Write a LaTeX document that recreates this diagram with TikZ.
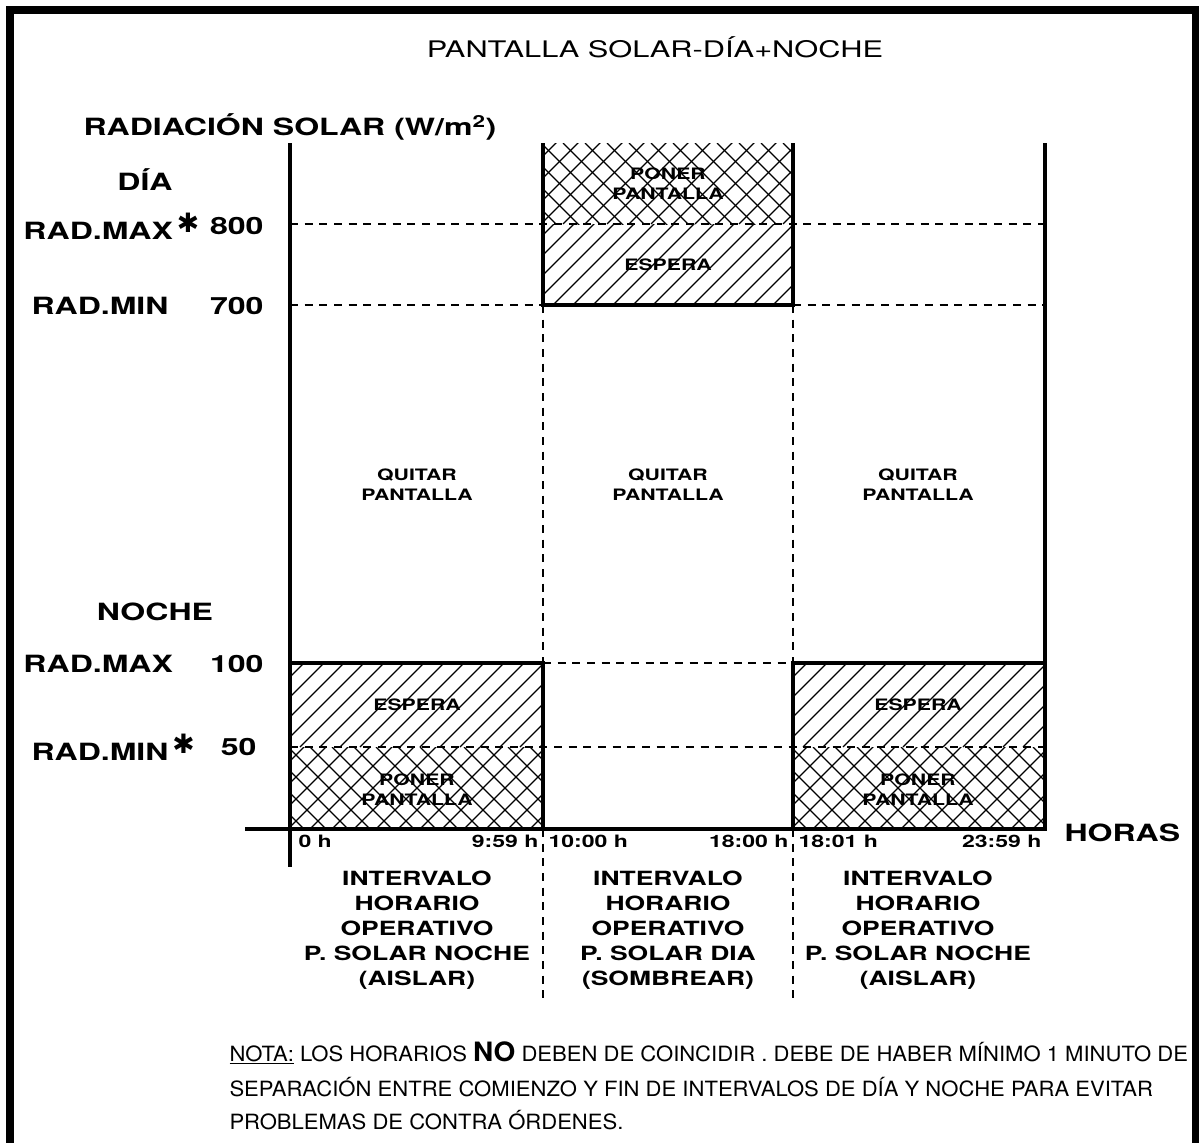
\documentclass[tikz,border=0pt]{standalone}
\usepackage{fontspec}
\setmainfont{TeX Gyre Heros}[FakeStretch=1.35]
\newfontfamily\notefont{TeX Gyre Heros}[FakeStretch=1.05]
\newfontfamily\symfont{DejaVu Sans}

\tikzset{every picture/.style={line width=0.75pt}}
\tikzset{
  axisline/.style={line width=3pt},
  boxline/.style={line width=2.6pt},
  guide/.style={line width=1.5pt,dash pattern={on 6pt off 5pt}},
  hatchln/.style={line width=0.9pt},
  radlbl/.style={font=\fontsize{17.8}{20}\selectfont\bfseries,inner sep=0.75pt},
  zonelbl/.style={font=\fontsize{11.8}{15}\selectfont\bfseries,align=center,inner sep=0.75pt},
  horalbl/.style={font=\fontsize{12.8}{14}\selectfont\bfseries,inner sep=0.75pt},
  ivllbl/.style={font=\fontsize{14.7}{18.75}\selectfont\bfseries,align=center,inner sep=0.75pt,anchor=north},
  notelbl/.style={font=\notefont\fontsize{15.75}{18}\selectfont,anchor=west,inner sep=0.75pt}
}
\newcommand{\starmark}{\,\raisebox{0.3em}{\symfont\mdseries\fontsize{20}{20}\selectfont ✱}}

\begin{document}
\begin{tikzpicture}[x=0.75pt,y=0.75pt,yscale=-1,xscale=1]
\useasboundingbox (0,0) rectangle (1199,1142);
\clip (0,0) rectangle (1199,1142);

%Shape: Frame
\draw [line width=6pt] (9.5,10) rectangle (1195.5,1160);

%Shape: Hatch, day box (crosses above 800, lines below)
\begin{scope}
\clip (543,143) rectangle (793,224);
\foreach \x in {453,475,...,793} {
  \draw [hatchln] (\x,224) -- ++(120,-120);
  \draw [hatchln] (\x,143) -- ++(120,120);
}
\end{scope}
\begin{scope}
\clip (543,224) rectangle (793,305);
\foreach \x in {453,473,...,793} \draw [hatchln] (\x,305) -- ++(120,-120);
\end{scope}
%Shape: Hatch, night boxes
\begin{scope}
\clip (290,663) rectangle (543,747);
\foreach \x in {200,220,...,543} \draw [hatchln] (\x,747) -- ++(120,-120);
\end{scope}
\begin{scope}
\clip (290,747) rectangle (543,829);
\foreach \x in {200,222,...,543} {
  \draw [hatchln] (\x,829) -- ++(120,-120);
  \draw [hatchln] (\x,747) -- ++(120,120);
}
\end{scope}
\begin{scope}
\clip (793,663) rectangle (1045,747);
\foreach \x in {703,723,...,1045} \draw [hatchln] (\x,747) -- ++(120,-120);
\end{scope}
\begin{scope}
\clip (793,747) rectangle (1045,829);
\foreach \x in {703,725,...,1045} {
  \draw [hatchln] (\x,829) -- ++(120,-120);
  \draw [hatchln] (\x,747) -- ++(120,120);
}
\end{scope}

%Straight Lines: axes
\draw [axisline] (290,143) -- (290,867);
\draw [axisline] (245,829) -- (1047,829);
\draw [axisline] (1045,143) -- (1045,829);
%Straight Lines: day box
\draw [boxline] (543,143) -- (543,305) -- (793,305) -- (793,143);
%Straight Lines: night boxes
\draw [boxline] (290,663) -- (543,663) -- (543,829);
\draw [boxline] (793,829) -- (793,663) -- (1045,663);
%Straight Lines: dashed levels
\draw [guide] (290,224) -- (1045,224);
\draw [guide] (290,305) -- (543,305);
\draw [guide] (793,305) -- (1045,305);
\draw [guide] (543,663) -- (793,663);
\draw [guide] (290,747) -- (1045,747);
%Straight Lines: dashed intervals
\draw [guide] (543,305) -- (543,663);
\draw [guide] (793,305) -- (793,663);
\draw [guide] (543,829) -- (543,1000);
\draw [guide] (793,829) -- (793,1000);

% Text Node
\draw (655,47) node (ttl) [font=\fontsize{17.1}{20}\selectfont,inner sep=0.75pt] {PANTALLA SOLAR-DÍA+NOCHE};
% Text Node
\draw (290,127) node (rad) [radlbl] {RADIACIÓN SOLAR (W/m\textsuperscript{2})};
% Text Node
\draw (145,180) node (dia) [radlbl] {DÍA};
% Text Node
\draw (22,226) node (dmax) [radlbl,anchor=west] {RAD.MAX\starmark};
% Text Node
\draw (265,226) node (v800) [radlbl,anchor=east] {800};
% Text Node
\draw (30,306) node (dmin) [radlbl,anchor=west] {RAD.MIN};
% Text Node
\draw (265,306) node (v700) [radlbl,anchor=east] {700};
% Text Node
\draw (155,612) node (noche) [radlbl] {NOCHE};
% Text Node
\draw (22,664) node (nmax) [radlbl,anchor=west] {RAD.MAX};
% Text Node
\draw (265,664) node (v100) [radlbl,anchor=east] {100};
% Text Node
\draw (30,747) node (nmin) [radlbl,anchor=west] {RAD.MIN\starmark};
% Text Node
\draw (258,747) node (v50) [radlbl,anchor=east] {50};

% Text Node
\draw (668,184) node (poner1) [zonelbl] {PONER\\PANTALLA};
% Text Node
\draw (668,265) node (espera1) [zonelbl] {ESPERA};
% Text Node
\draw (417,485) node (quitar1) [zonelbl] {QUITAR\\PANTALLA};
% Text Node
\draw (668,485) node (quitar2) [zonelbl] {QUITAR\\PANTALLA};
% Text Node
\draw (918,485) node (quitar3) [zonelbl] {QUITAR\\PANTALLA};
% Text Node
\draw (417,705) node (espera2) [zonelbl] {ESPERA};
% Text Node
\draw (918,705) node (espera3) [zonelbl] {ESPERA};
% Text Node
\draw (417,790) node (poner2) [zonelbl] {PONER\\PANTALLA};
% Text Node
\draw (918,790) node (poner3) [zonelbl] {PONER\\PANTALLA};

% Text Node
\draw (297,841) node (h0) [horalbl,anchor=west] {0 h};
% Text Node
\draw (540,841) node (h959) [horalbl,anchor=east] {9:59 h};
% Text Node
\draw (547,841) node (h1000) [horalbl,anchor=west] {10:00 h};
% Text Node
\draw (790,841) node (h1800) [horalbl,anchor=east] {18:00 h};
% Text Node
\draw (797,841) node (h1801) [horalbl,anchor=west] {18:01 h};
% Text Node
\draw (1043,841) node (h2359) [horalbl,anchor=east] {23:59 h};
% Text Node
\draw (1063,833) node (horas) [radlbl,anchor=west] {HORAS};

% Text Node
\draw (417,869) node (ivl1) [ivllbl] {INTERVALO\\HORARIO\\OPERATIVO\\P. SOLAR NOCHE\\(AISLAR)};
% Text Node
\draw (668,869) node (ivl2) [ivllbl] {INTERVALO\\HORARIO\\OPERATIVO\\P. SOLAR DIA\\(SOMBREAR)};
% Text Node
\draw (918,869) node (ivl3) [ivllbl] {INTERVALO\\HORARIO\\OPERATIVO\\P. SOLAR NOCHE\\(AISLAR)};

% Text Node
\draw (228,1053) node (nota1) [notelbl] {\underline{NOTA:} LOS HORARIOS {\bfseries\fontsize{20}{20}\selectfont NO} DEBEN DE COINCIDIR . DEBE DE HABER MÍNIMO 1 MINUTO DE};
% Text Node
\draw (228,1087) node (nota2) [notelbl] {SEPARACIÓN ENTRE COMIENZO Y FIN DE INTERVALOS DE DÍA Y NOCHE PARA EVITAR};
% Text Node
\draw (228,1120) node (nota3) [notelbl] {PROBLEMAS DE CONTRA ÓRDENES.};
\end{tikzpicture}
\end{document}
